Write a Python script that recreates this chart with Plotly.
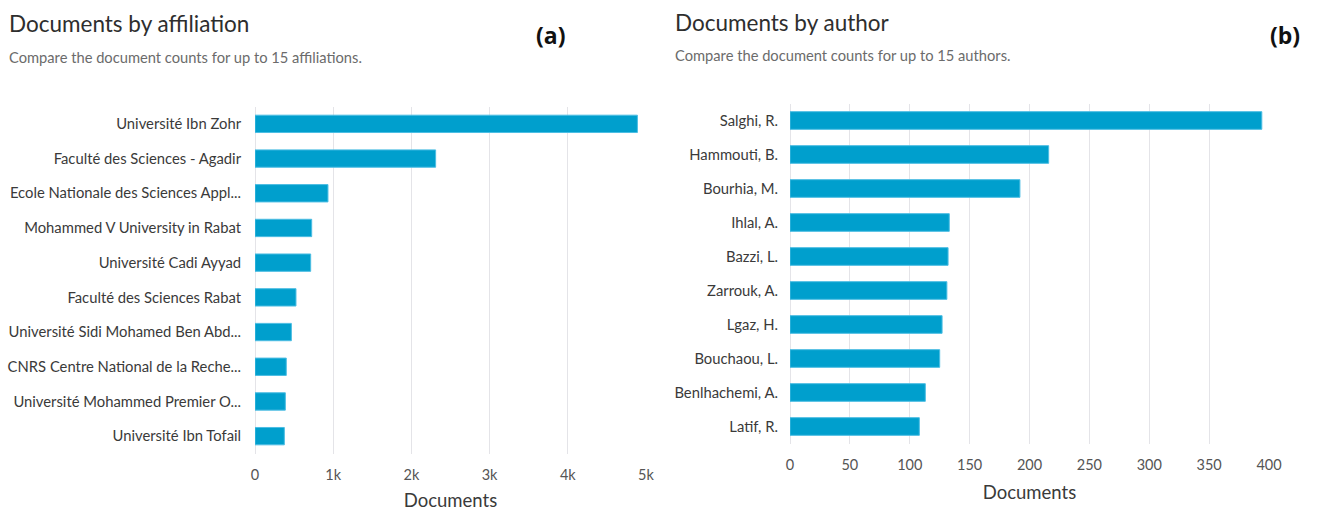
import plotly.graph_objects as go

W, H = 1337, 511

affiliations = [
    "Université Ibn Zohr",
    "Faculté des Sciences - Agadir",
    "Ecole Nationale des Sciences Appl...",
    "Mohammed V University in Rabat",
    "Université Cadi Ayyad",
    "Faculté des Sciences Rabat",
    "Université Sidi Mohamed Ben Abd...",
    "CNRS Centre National de la Reche...",
    "Université Mohammed Premier O...",
    "Université Ibn Tofail",
]
affiliation_docs = [4890, 2310, 933, 725, 712, 524, 465, 400, 388, 375]

authors = [
    "Salghi, R.", "Hammouti, B.", "Bourhia, M.", "Ihlal, A.", "Bazzi, L.",
    "Zarrouk, A.", "Lgaz, H.", "Bouchaou, L.", "Benlhachemi, A.", "Latif, R.",
]
author_docs = [394, 216, 192, 133, 132, 131, 127, 125, 113, 108]

left_ticks = [0, 1000, 2000, 3000, 4000, 5000]
left_ticktext = ["0", "1k", "2k", "3k", "4k", "5k"]
right_ticks = [0, 50, 100, 150, 200, 250, 300, 350, 400]

BAR = "#009fcd"
BAR_EDGE = "#4cbde3"
GRID = "#e4e4e8"
FONT = "Lato"
LABEL = "#3a3a3a"


def px(xp):
    return xp / W


def py(yp):
    return 1 - yp / H


fig = go.Figure()
fig.add_trace(go.Bar(
    x=affiliation_docs, y=affiliations, orientation="h",
    marker=dict(color=BAR, line=dict(color=BAR_EDGE, width=1)),
    width=0.5, xaxis="x", yaxis="y", showlegend=False,
))
fig.add_trace(go.Bar(
    x=author_docs, y=authors, orientation="h",
    marker=dict(color=BAR, line=dict(color=BAR_EDGE, width=1)),
    width=0.52, xaxis="x2", yaxis="y2", showlegend=False,
))

common_x = dict(
    showgrid=True, gridcolor=GRID, gridwidth=1, zeroline=True, zerolinecolor=GRID,
    zerolinewidth=1, showline=False, ticks="outside", ticklen=8, automargin=False,
    tickcolor="rgba(0,0,0,0)", tickfont=dict(family=FONT, size=14.5, color="#555555"),
)
common_y = dict(
    autorange="reversed", showgrid=False, showline=False, ticks="outside",
    tickcolor="rgba(0,0,0,0)", automargin=False,
    tickfont=dict(family=FONT, size=14.8, color=LABEL),
)

fig.update_layout(
    width=W, height=H,
    margin=dict(l=0, r=0, t=0, b=0),
    paper_bgcolor="white", plot_bgcolor="white",
    bargap=0.5,
    xaxis=dict(
        domain=[px(255), px(646)], range=[0, 5000], anchor="y",
        tickvals=left_ticks, ticktext=left_ticktext,
        title=dict(text="Documents", font=dict(family=FONT, size=18.5, color="#3a3a3a"),
                   standoff=17),
        **common_x,
    ),
    yaxis=dict(domain=[py(453.5), py(106.5)], anchor="x", ticklen=10, **common_y),
    xaxis2=dict(
        domain=[px(790), px(1269)], range=[0, 400], anchor="y2",
        tickvals=right_ticks,
        title=dict(text="Documents", font=dict(family=FONT, size=18.5, color="#3a3a3a"),
                   standoff=14),
        **common_x,
    ),
    yaxis2=dict(domain=[py(443.5), py(103.5)], anchor="x2", ticklen=8, **common_y),
)

annos = [
    dict(text="Documents by affiliation", x=px(7), y=py(23), size=22.5, color="#2e2e2e"),
    dict(text="Compare the document counts for up to 15 affiliations.", x=px(7), y=py(57),
         size=14.7, color="#6b6b6b"),
    dict(text="Documents by author", x=px(673), y=py(22), size=22.5, color="#2e2e2e"),
    dict(text="Compare the document counts for up to 15 authors.", x=px(673), y=py(55),
         size=14.7, color="#6b6b6b"),
]
for a in annos:
    fig.add_annotation(
        text=a["text"], x=a["x"], y=a["y"], xref="paper", yref="paper",
        xanchor="left", yanchor="middle", showarrow=False,
        font=dict(family=FONT, size=a["size"], color=a["color"]),
    )

for lab, xp in [("(a)", 534), ("(b)", 1268)]:
    fig.add_annotation(
        text="<b>%s</b>" % lab, x=px(xp), y=py(35), xref="paper", yref="paper",
        xanchor="left", yanchor="middle", showarrow=False,
        font=dict(family="Open Sans", size=23, color="#111111"),
    )

fig.write_html(
    "out.html",
    config={"displayModeBar": False},
    post_script="document.body.style.margin='0';document.body.style.overflow='hidden';",
)
